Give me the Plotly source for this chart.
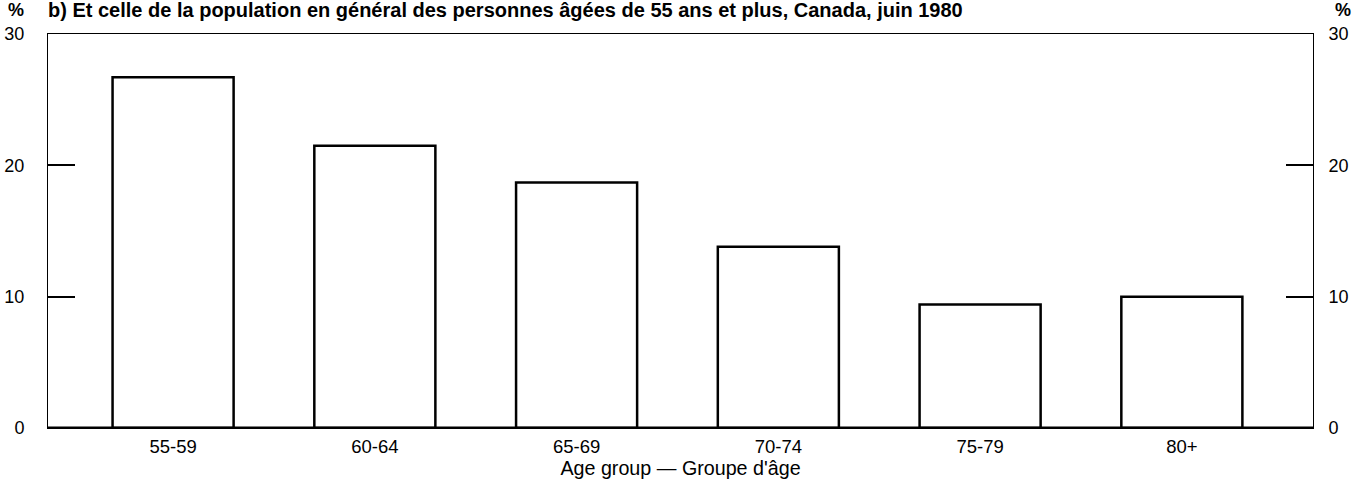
import plotly.graph_objects as go

age_groups = ["55-59", "60-64", "65-69", "70-74", "75-79", "80+"]
pct = [26.7, 21.5, 18.7, 13.8, 9.4, 10.0]
y_ticks = [0, 10, 20, 30]

title_txt = "b) Et celle de la population en général des personnes âgées de 55 ans et plus, Canada, juin 1980"
font_fam = "Liberation Sans, Arial, sans-serif"

fig = go.Figure()

fig.add_trace(go.Bar(
    x=age_groups, y=pct,
    width=0.6,
    marker=dict(color="white", line=dict(color="black", width=2.5)),
    hoverinfo="x+y",
    showlegend=False
))

# trace invisible pour afficher l'axe de droite
fig.add_trace(go.Scatter(
    x=age_groups, y=pct, yaxis="y2",
    mode="markers", marker=dict(opacity=0),
    hoverinfo="skip", showlegend=False
))

axis_y = dict(
    range=[0, 30], tickvals=y_ticks, ticks="inside", ticklen=27, tickwidth=2,
    tickcolor="black", showgrid=False, zeroline=False,
    showline=True, linecolor="black", linewidth=1,
    tickfont=dict(family=font_fam, size=18, color="black"),
    ticklabelstandoff=19, automargin=False, fixedrange=True
)

fig.update_layout(
    width=1368, height=482,
    margin=dict(l=48, r=55, t=34, b=54),
    plot_bgcolor="white", paper_bgcolor="white",
    font=dict(family=font_fam, color="black"),
    xaxis=dict(
        range=[-0.62, 5.65], showgrid=False, ticks="", showline=True,
        mirror=True, linecolor="black", linewidth=1, automargin=False,
        tickfont=dict(family=font_fam, size=18.5, color="black"),
        ticklabelstandoff=2,
        title=dict(text="Age group — Groupe d'âge", standoff=2,
                   font=dict(family=font_fam, size=19.7, color="black"))
    ),
    yaxis=axis_y,
    yaxis2=dict(axis_y, overlaying="y", side="right", ticklabelstandoff=11),
)

fig.add_shape(type="line", xref="paper", yref="y", x0=0, x1=1, y0=0, y1=0,
              line=dict(color="black", width=3))

fig.add_annotation(text="<b>" + title_txt + "</b>", xref="paper", yref="paper",
                   x=0, y=1, xanchor="left", yanchor="middle", yshift=24, xshift=-2,
                   showarrow=False, font=dict(family=font_fam, size=20, color="black"))
fig.add_annotation(text="<b>%</b>", xref="paper", yref="paper",
                   x=0, y=1, xanchor="left", yanchor="middle", xshift=-42, yshift=24,
                   showarrow=False, font=dict(family=font_fam, size=18, color="black"))
fig.add_annotation(text="<b>%</b>", xref="paper", yref="paper",
                   x=1, y=1, xanchor="left", yanchor="middle", xshift=20, yshift=24,
                   showarrow=False, font=dict(family=font_fam, size=18, color="black"))

fig.write_html("out.html", config={"displayModeBar": False},
               post_script="document.body.style.margin='0';")
